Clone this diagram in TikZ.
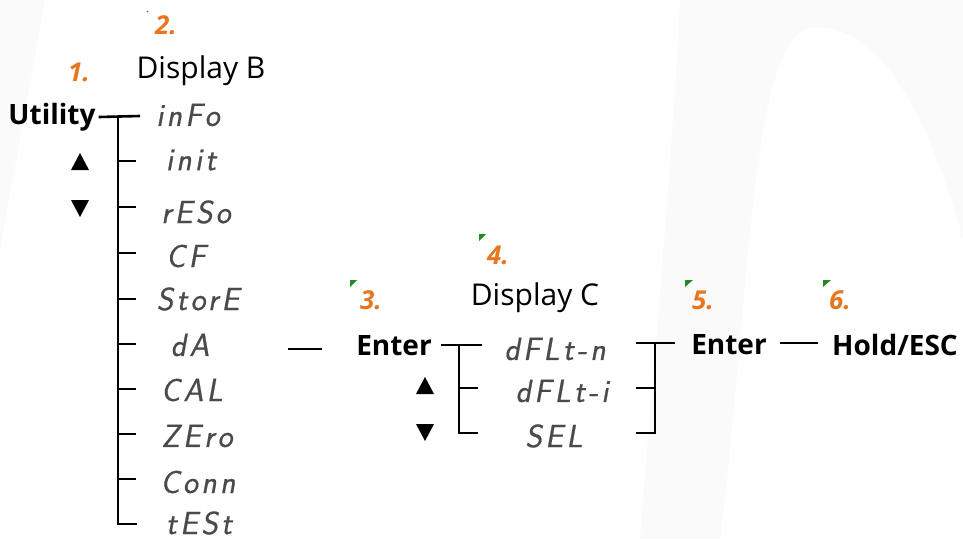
\documentclass[tikz,border=0pt]{standalone}
\usepackage{fontspec}
\setmainfont{Open Sans}
\newfontfamily\segfont{Latin Modern Sans}[LetterSpace=10,FakeSlant=0.18,FakeBold=0.6]
\definecolor{numorange}{HTML}{E8761E}
\definecolor{tickgreen}{HTML}{1E8C1E}
\definecolor{seggray}{HTML}{4A4A4A}
\definecolor{bggray}{HTML}{FAFAFA}
\begin{document}
\begin{tikzpicture}[x=1pt,y=-1pt,
  lbl/.style={font=\fontsize{28}{32}\selectfont\bfseries, inner sep=0pt},
  hdr/.style={font=\fontsize{30}{34}\selectfont, inner sep=0pt},
  num/.style={font=\fontsize{26}{30}\selectfont\bfseries\itshape, text=numorange, inner sep=0pt},
  seg/.style={font=\fontsize{32}{36}\selectfont\segfont, text=seggray, inner sep=0pt},
  conn/.style={line width=2.6pt, line cap=butt},
  gtick/.style={fill=tickgreen}]
% background
\fill[bggray] (0,0) rectangle (963,539);
\fill[white] (45,0) -- (680,0) .. controls (670,200) and (650,400) .. (640,539) -- (0,539) -- (0,250) -- cycle;
\fill[white] (720,539) .. controls (750,300) and (750,40) .. (810,28) .. controls (880,20) and (930,120) .. (963,240) -- (963,539) -- cycle;
\useasboundingbox (0,0) rectangle (963,539);

% numbers and ticks
\fill[tickgreen] (147.5,11.5) circle (0.8);
\node[num] (n2) at (166,25) {2.};
\node[num] (n1) at (79,72) {1.};
\node[num] (n3) at (371,300) {3.};
\node[num] (n4) at (498,255) {4.};
\node[num] (n5) at (703,300) {5.};
\node[num] (n6) at (840,300) {6.};
\fill[gtick] (350,280) -- (357,280) -- (350,287) -- cycle;
\fill[gtick] (479,234) -- (486,234) -- (479,241) -- cycle;
\fill[gtick] (685,280) -- (693,280) -- (685,287) -- cycle;
\fill[gtick] (823,280) -- (831,280) -- (823,287) -- cycle;

% headers
\node[hdr] (dispB) at (201,71) {Display B};
\node[hdr] (dispC) at (535,298) {Display C};

% left column
\node[lbl] (util) at (52,117) {Utility};
\fill (80,153) -- (89,170) -- (71,170) -- cycle;
\fill (71,200) -- (89,200) -- (80,217) -- cycle;

\node[seg] (s1) at (188,115) {inFo};
\node[seg] (s2) at (191,160) {init};
\node[seg] (s3) at (196,212) {rESo};
\node[seg] (s4) at (186,256) {CF};
\node[seg] (s5) at (198,299) {StorE};
\node[seg] (s6) at (190,345) {dA};
\node[seg] (s7) at (192,390) {CAL};
\node[seg] (s8) at (197,436) {ZEro};
\node[seg] (s9) at (198,482) {Conn};
\node[seg] (s10) at (199,523) {tESt};

\coordinate (bTop) at (118,116);
\coordinate (bTopR) at (140,116);
\coordinate (bBot) at (118,524);
\draw[conn] (util.east) ++(3,0) coordinate (uE) -- (bTopR);
\draw[conn] (bTop) -- (bBot) -- ++(19,0);
\foreach \y in {161,207,253,299,344,389,434,479}{
  \coordinate (t\y) at (118,\y);
  \draw[conn] (t\y) -- ++(18,0);
}

% dA to Enter
\coordinate (mA) at (288,349);
\coordinate (mB) at (322,349);
\draw[conn] (mA) -- (mB);

% middle column
\node[lbl] (enter1) at (394,346) {Enter};
\fill (425,377) -- (434,394) -- (416,394) -- cycle;
\fill (416,424) -- (434,424) -- (425,441) -- cycle;

\node[seg] (c1) at (555,349) {dFLt-n};
\node[seg] (c2) at (562,391) {dFLt-i};
\node[seg] (c3) at (554,436) {SEL};

\coordinate (cL) at (459,345);
\coordinate (cLb) at (459,433);
\draw[conn] (441,345) coordinate (e1o) -- (482,345);
\draw[conn] (cL) -- (cLb) -- ++(19,0);
\draw[conn] (459,388) coordinate (cLm) -- ++(19,0);

\coordinate (cR) at (655,343);
\coordinate (cRb) at (655,433);
\draw[conn] (636,343) coordinate (cRl) -- (675,343);
\draw[conn] (cR) -- (cRb) -- ++(-19,0);
\draw[conn] (655,388) coordinate (cRm) -- ++(-19,0);

% right
\node[lbl] (enter2) at (729,345) {Enter};
\node[lbl] (hold) at (895,345) {Hold/ESC};
\coordinate (rA) at (780,343);
\coordinate (rB) at (818,343);
\draw[conn] (rA) -- (rB);
\end{tikzpicture}
\end{document}
